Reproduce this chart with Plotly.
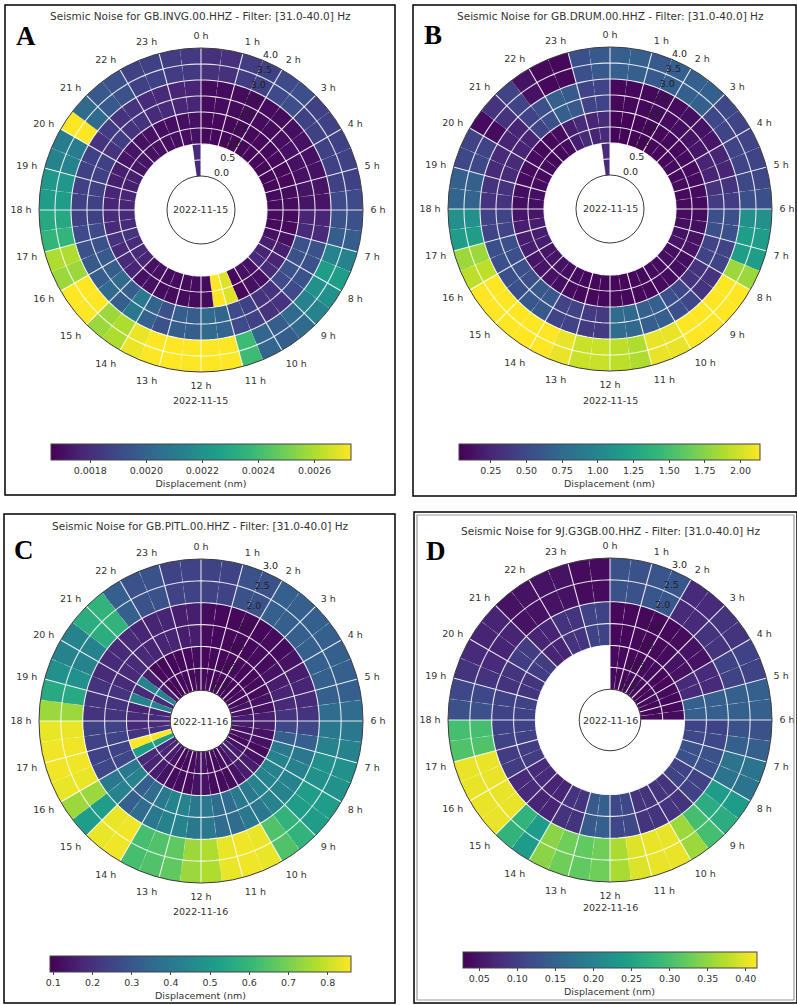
import plotly.graph_objects as go

W, H = 797, 1005

# ---------------- data ----------------
slot_hours = [i * 0.5 for i in range(48)]          # start of each 30-min slot
hour_ticks = list(range(24))
hour_labels = [f"{h} h" for h in hour_ticks]
rticks_AB = [0.0, 0.5, 1.0, 1.5, 2.0, 2.5, 3.0, 3.5, 4.0]
rticks_CD = [0.0, 0.5, 1.0, 1.5, 2.0, 2.5, 3.0]
cbar_ticks_A = [0.0018, 0.0020, 0.0022, 0.0024, 0.0026]
cbar_ticks_B = [0.25, 0.50, 0.75, 1.00, 1.25, 1.50, 1.75, 2.00]
cbar_ticks_C = [0.1, 0.2, 0.3, 0.4, 0.5, 0.6, 0.7, 0.8]
cbar_ticks_D = [0.05, 0.10, 0.15, 0.20, 0.25, 0.30, 0.35, 0.40]

titles = [
    "Seismic Noise for GB.INVG.00.HHZ - Filter: [31.0-40.0] Hz",
    "Seismic Noise for GB.DRUM.00.HHZ - Filter: [31.0-40.0] Hz",
    "Seismic Noise for GB.PITL.00.HHZ - Filter: [31.0-40.0] Hz",
    "Seismic Noise for 9J.G3GB.00.HHZ - Filter: [31.0-40.0] Hz",
]
panel_letters = ["A", "B", "C", "D"]
start_dates = ["2022-11-15", "2022-11-15", "2022-11-16", "2022-11-16"]
end_dates = ["2022-11-15", "2022-11-15", "2022-11-16", "2022-11-16"]
color_ranges = [(0.00166, 0.00273), (0.027, 2.136), (0.0915, 0.8595), (0.028, 0.414)]

N = None
# ---- Panel A (GB.INVG) : displacement per 30-min slot, one list per ring ----
A_ring0 = [N] * 47 + [0.00179]
A_ring1 = [
    .00168, .00168, .00168, .00168, .00168, .00168, .00168, .00168,
    .00168, .00168, .00169, .00169, .00169, .00169, .00171, .00175,
    .00177, .00179, .00171, .00171, .00168, .00268, .00273, .00169,
    .00169, .00169, .00169, .00169, .00171, .00171, .00177, .00179,
    .00179, .00182, .00179, .00179, .00177, .00177, .00175, .00175,
    .00172, .00172, .00171, .00171, .00170, .00170, .00170, .00171]
A_ring2 = [
    .00169, .00169, .00169, .00169, .00169, .00169, .00170, .00171,
    .00171, .00171, .00172, .00172, .00177, .00179, .00193, .00193,
    .00193, .00190, .00182, .00182, .00187, .00190, .00200, .00203,
    .00198, .00198, .00193, .00200, .00209, .00198, .00203, .00198,
    .00196, .00193, .00190, .00187, .00187, .00187, .00187, .00187,
    .00182, .00185, .00182, .00182, .00179, .00179, .00177, .00177]
A_ring3 = [
    .00181, .00181, .00185, .00187, .00190, .00192, .00187, .00187,
    .00187, .00187, .00187, .00190, .00193, .00198, .00214, .00225,
    .00220, .00214, .00203, .00198, .00201, .00239, .00273, .00273,
    .00273, .00273, .00273, .00270, .00260, .00257, .00273, .00273,
    .00257, .00260, .00236, .00230, .00225, .00222, .00214, .00211,
    .00273, .00203, .00196, .00193, .00187, .00187, .00185, .00184]

# ---- Panel B (GB.DRUM) ----
B_ring0 = [N] * 47 + [0.28]
B_ring1 = [
    .05, .05, .05, .05, .07, .07, .07, .09,
    .09, .09, .09, .09, .09, .11, .13, .15,
    .11, .11, .09, .09, .07, .07, .07, .07,
    .07, .07, .07, .09, .11, .13, .15, .15,
    .20, .20, .20, .15, .11, .11, .09, .09,
    .09, .07, .07, .09, .20, .28, .24, .28]
B_ring2 = [
    .07, .07, .07, .09, .09, .11, .13, .15,
    .24, .24, .34, .41, .55, .55, .45, .45,
    .34, .34, .49, .55, .66, .66, .72, .77,
    .39, .39, .45, .45, .60, .60, .55, .55,
    .55, .55, .45, .45, .34, .34, .28, .28,
    .24, .24, .45, .55, .66, .62, .45, .45]
B_ring3 = [
    .66, .66, .62, .66, .66, .66, .49, .45,
    .45, .45, .49, .55, 1.08, 1.19, 1.19, 1.82,
    2.14, 2.14, 2.14, 2.14, 2.07, 2.07, 1.88, 1.93,
    1.97, 1.97, 2.07, 2.14, 2.14, 2.14, 2.14, 2.14,
    1.93, 1.82, 1.19, 1.08, .70, .66, .49, .45,
    .09, .34, .45, .13, .07, .07, .55, .62]

# ---- Panel C (GB.PITL) ----
C_ring0 = [
    .107, .107, .107, .107, .107, .107, .107, .115,
    .115, .130, .130, .153, .153, .130, .130, .115,
    .130, .153, .153, .130, .115, .115, .115, .130,
    .130, .115, .115, .115, .130, .153, .168, .184,
    .514, .860, .207, .184, .184, .168, .437, .184,
    .437, .153, .107, .107, .107, .107, .107, .115]
C_ring1 = [
    .115, .107, .107, .107, .107, .115, .115, .130,
    .153, .168, .184, .207, .260, .322, .399, .437,
    .437, .437, .437, .399, .399, .360, .360, .399,
    .399, .437, .437, .399, .360, .322, .437, .399,
    .260, .245, .245, .245, .207, .207, .207, .184,
    .184, .184, .184, .168, .168, .168, .153, .153]
C_ring2 = [
    .245, .245, .284, .284, .322, .322, .322, .322,
    .322, .322, .322, .360, .399, .437, .476, .476,
    .514, .514, .591, .645, .836, .844, .836, .767,
    .744, .668, .645, .629, .844, .836, .514, .744,
    .836, .844, .844, .836, .744, .552, .476, .437,
    .437, .568, .591, .322, .284, .284, .245, .245]

# ---- Panel D (9J.G3GB) ----
D_ring0 = [
    .040, .036, .036, .036, .040, .040, .036, .036,
    .040, .036, .036, .040] + [N] * 36
D_ring1 = [
    .036, .036, .036, .036, .036, .040, .047, .047,
    .074, .074, .144, .144, .105, .113, .125, .125,
    .105, .105, .086, .086, .086, .086, .113, .113,
    .144, .136, .086, .086, .067, .067, .074, .074,
    .097, .097, .105, .105, .105, .105, .086, .086,
    .097, .097, .067, .067, .086, .086, .105, .105]
D_ring2 = [
    .125, .125, .132, .132, .074, .074, .086, .086,
    .105, .105, .144, .144, .125, .144, .175, .175,
    .240, .267, .298, .356, .402, .402, .395, .364,
    .329, .318, .329, .345, .240, .279, .402, .402,
    .402, .402, .306, .298, .125, .113, .086, .074,
    .067, .067, .047, .047, .047, .047, .040, .040]

panels = [
    [A_ring0, A_ring1, A_ring2, A_ring3],
    [B_ring0, B_ring1, B_ring2, B_ring3],
    [C_ring0, C_ring1, C_ring2],
    [D_ring0, D_ring1, D_ring2],
]
rticks = [rticks_AB, rticks_AB, rticks_CD, rticks_CD]
cbar_ticks = [cbar_ticks_A, cbar_ticks_B, cbar_ticks_C, cbar_ticks_D]
cbar_fmt = [".4f", ".2f", ".1f", ".2f"]

# ---------------- layout geometry (pixels) ----------------
centers = [(201, 210), (610, 209), (201, 721), (610, 720)]
R = 162
holes = [0.21, 0.21, 0.19, 0.19]
title_y = [16, 16, 526, 531]
letter_pos = [(26, 36), (433, 35), (24, 550), (436, 551)]
end_date_y = [401, 401, 911, 907]
cbar_geo = [  # x-center, top y, length
    (201, 444, 300), (609.5, 444, 301), (200.5, 956, 301), (609.5, 952, 294)]
boxes = [(5, 5, 395, 495), (413, 5, 796, 496), (4, 514, 395, 1003), (414, 512, 797, 1003)]
RLABEL_ANGLE = 22.5   # degrees clockwise from 0 h where radial labels sit

FONT = "DejaVu Sans"
GRID = "rgba(255,255,255,0.85)"


def px_x(x):
    return x / W


def px_y(y):
    return 1 - y / H


fig = go.Figure()
layout = dict(width=W, height=H, margin=dict(l=0, r=0, t=0, b=0),
              paper_bgcolor="white", plot_bgcolor="white", showlegend=False,
              font=dict(family=FONT, color="#333"))
annotations, shapes = [], []
circle_theta = [i * 2.0 for i in range(181)]

for k, rings in enumerate(panels):
    sid = "polar" if k == 0 else f"polar{k+1}"
    cax = "coloraxis" if k == 0 else f"coloraxis{k+1}"
    rmax = rticks[k][-1]
    theta, base, rr, col = [], [], [], []
    for ring_idx, ring in enumerate(rings):
        for s, v in zip(slot_hours, ring):
            if v is None:
                continue
            theta.append((s + 0.25) * 15.0)
            base.append(ring_idx)
            rr.append(1)
            col.append(v)
    fig.add_trace(go.Barpolar(
        theta=theta, r=rr, base=base, width=7.5,
        marker=dict(color=col, coloraxis=cax, line=dict(width=0)),
        subplot=sid, hoverinfo="skip"))
    # faint dashed half-hour lines
    dr, dt = [], []
    for h in hour_ticks:
        dr += [0, rmax, None]
        dt += [(h + 0.5) * 15.0] * 2 + [None]
    fig.add_trace(go.Scatterpolar(
        r=dr, theta=dt, mode="lines", subplot=sid, hoverinfo="skip",
        line=dict(color="rgba(255,255,255,0.32)", width=0.8, dash="dash")))
    # grid drawn on top of the bars: hour spokes and radial circles
    gr, gt = [], []
    for h in hour_ticks:
        gr += [0, rmax, None]
        gt += [h * 15.0] * 2 + [None]
    for t in rticks[k][1:-1]:
        gr += [t] * len(circle_theta) + [None]
        gt += circle_theta + [None]
    fig.add_trace(go.Scatterpolar(
        r=gr, theta=gt, mode="lines", subplot=sid, hoverinfo="skip",
        line=dict(color=GRID, width=1.1)))
    # radial tick labels (horizontal, matplotlib style)
    fig.add_trace(go.Scatterpolar(
        r=rticks[k], theta=[RLABEL_ANGLE] * len(rticks[k]), mode="text",
        text=[f"{t:.1f}" for t in rticks[k]], textposition="top right",
        textfont=dict(size=9.5, color="#222", family=FONT),
        subplot=sid, hoverinfo="skip", cliponaxis=False))

    cx, cy = centers[k]
    layout[sid] = dict(
        domain=dict(x=[px_x(cx - R), px_x(cx + R)], y=[px_y(cy + R), px_y(cy - R)]),
        hole=holes[k], bgcolor="white",
        angularaxis=dict(rotation=90, direction="clockwise", thetaunit="degrees",
                         tickmode="array", tickvals=[h * 15 for h in hour_ticks],
                         ticktext=hour_labels, showgrid=False,
                         showline=True, linecolor="#3a3a3a", linewidth=1,
                         ticks="outside", ticklen=5, tickcolor="rgba(0,0,0,0)",
                         tickfont=dict(size=9.5, color="#333", family=FONT)),
        radialaxis=dict(range=[0, rmax], showline=False, ticks="", showgrid=False,
                        showticklabels=False))
    vmin, vmax = color_ranges[k]
    bx, by, blen = cbar_geo[k]
    layout[cax] = dict(
        colorscale="Viridis", cmin=vmin, cmax=vmax,
        colorbar=dict(orientation="h", x=px_x(bx), xanchor="center", y=px_y(by), yanchor="top",
                      len=blen, lenmode="pixels", thickness=16, thicknessmode="pixels",
                      xpad=0, ypad=0, outlinewidth=1, outlinecolor="#444",
                      tickmode="array", tickvals=cbar_ticks[k], tickformat=cbar_fmt[k],
                      ticks="outside", ticklen=3, tickcolor="#444",
                      tickfont=dict(size=9.5, color="#333", family=FONT),
                      title=dict(text="Displacement (nm)", side="bottom",
                                 font=dict(size=9.5, color="#333", family=FONT))))
    # texts
    annotations.append(dict(text=titles[k], x=px_x(cx), y=px_y(title_y[k]), xref="paper", yref="paper",
                            showarrow=False, xanchor="center", yanchor="middle",
                            font=dict(size=10.5, color="#333", family=FONT)))
    lx, ly = letter_pos[k]
    annotations.append(dict(text=f"<b>{panel_letters[k]}</b>", x=px_x(lx), y=px_y(ly), xref="paper",
                            yref="paper", showarrow=False, xanchor="center", yanchor="middle",
                            font=dict(size=27, color="black", family="Liberation Serif")))
    annotations.append(dict(text=start_dates[k], x=px_x(cx), y=px_y(cy), xref="paper", yref="paper",
                            showarrow=False, xanchor="center", yanchor="middle",
                            font=dict(size=9.5, color="#333", family=FONT)))
    annotations.append(dict(text=end_dates[k], x=px_x(cx), y=px_y(end_date_y[k]), xref="paper",
                            yref="paper", showarrow=False, xanchor="center", yanchor="middle",
                            font=dict(size=9.5, color="#333", family=FONT)))
    x0, y0, x1, y1 = boxes[k]
    shapes.append(dict(type="rect", xref="paper", yref="paper", x0=px_x(x0), x1=px_x(x1),
                       y0=px_y(y1), y1=px_y(y0), line=dict(color="black", width=1.5)))
    if k == 3:
        shapes.append(dict(type="rect", xref="paper", yref="paper", x0=px_x(x0 + 3), x1=px_x(x1 - 3),
                           y0=px_y(y1 - 3), y1=px_y(y0 + 3), line=dict(color="#999", width=1.2)))

layout["annotations"] = annotations
layout["shapes"] = shapes
fig.update_layout(**layout)
fig.write_html("out.html", config={"displayModeBar": False},
               post_script="document.body.style.margin='0px';document.body.style.overflow='hidden';")
